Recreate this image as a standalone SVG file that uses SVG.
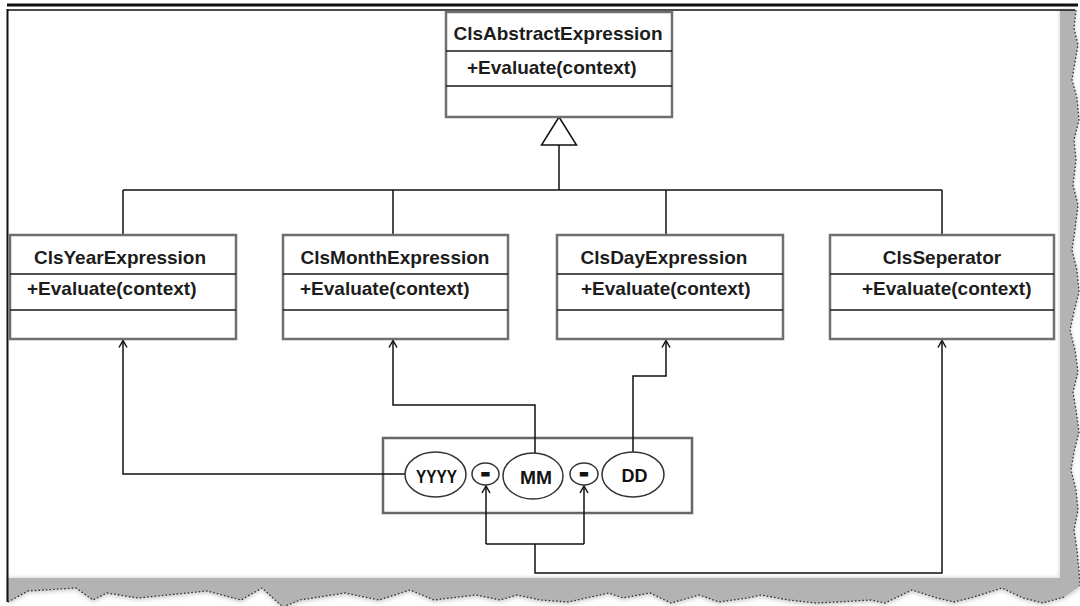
<svg xmlns="http://www.w3.org/2000/svg" width="1080" height="606" viewBox="0 0 1080 606">
  <defs>
    <style>
      .box { fill: #ffffff; stroke: #6f6f6f; stroke-width: 2.5; }
      .div { stroke: #1a1a1a; stroke-width: 1.3; }
      .t { font-family: "Liberation Sans", Arial, sans-serif; font-weight: bold; font-size: 19px; fill: #1c1c1c; }
      .c { text-anchor: middle; }
      .conn { fill: none; stroke: #111111; stroke-width: 1.5; }
      .ell { fill: #ffffff; stroke: #333333; stroke-width: 1.5; }
      .et { font-family: "Liberation Sans", Arial, sans-serif; font-weight: bold; font-size: 18.5px; fill: #111111; text-anchor: middle; }
      .dash { font-family: "Liberation Sans", Arial, sans-serif; font-weight: bold; font-size: 28px; fill: #111111; stroke: #111111; stroke-width: 1.2; text-anchor: middle; }
      .frame { stroke: #111111; fill: none; }
      .shadow { fill: #b3b3b3; }
      .edge { fill: none; stroke: #2e2e2e; stroke-width: 1.3; stroke-dasharray: 1.5 2.2; }
    </style>
    <marker id="arrow" markerUnits="userSpaceOnUse" markerWidth="12" markerHeight="12" refX="8" refY="5" orient="auto">
      <path d="M1,1 L8,5 L1,9" fill="none" stroke="#111111" stroke-width="1.5"/>
    </marker>
    <filter id="soft" x="-5%" y="-5%" width="110%" height="110%">
      <feGaussianBlur stdDeviation="2.2"/>
    </filter>
  </defs>

  <rect x="0" y="0" width="1080" height="606" fill="#ffffff"/>

  <!-- page shadow and torn edge -->
  <g id="page-edge">
    <path filter="url(#soft)" fill="#c8c8c8" d="M1060,10 L1076,10 L1074,28 L1078,45 L1075,62 L1072,80 L1077,98 L1079,120 L1074,140 L1076,160 L1073,185 L1078,205 L1075,230 L1072,250 L1077,270 L1079,292 L1074,312 L1070,330 L1075,350 L1078,372 L1073,392 L1076,410 L1079,432 L1074,452 L1071,470 L1076,490 L1078,510 L1074,530 L1077,550 L1079,570 L1080,588 L1064,599 L1043,605 L1023,600 L1002,590 L974,599 L954,604 L937,600 L912,592 L885,605 L871,602 L837,604 L816,605 L788,602 L761,597 L747,600 L719,604 L699,597 L671,605 L650,595 L623,600 L609,595 L568,604 L540,602 L517,597 L500,602 L476,597 L434,602 L410,592 L379,602 L345,595 L300,602 L283,609 L262,590 L241,602 L207,593 L138,600 L107,595 L93,602 L76,590 L28,593 L8,604 L8,578 L1060,578 Z"/>
    <path class="shadow" d="M1060,10 L1076,10 L1074,28 L1078,45 L1075,62 L1072,80 L1077,98 L1079,120 L1074,140 L1076,160 L1073,185 L1078,205 L1075,230 L1072,250 L1077,270 L1079,292 L1074,312 L1070,330 L1075,350 L1078,372 L1073,392 L1076,410 L1079,432 L1074,452 L1071,470 L1076,490 L1078,510 L1074,530 L1077,550 L1079,570 L1080,586 L1064,597 L1043,603 L1023,598 L1002,588 L974,597 L954,602 L937,598 L912,590 L885,603 L871,600 L837,602 L816,603 L788,600 L761,595 L747,598 L719,602 L699,595 L671,603 L650,593 L623,598 L609,593 L568,602 L540,600 L517,595 L500,600 L476,595 L434,600 L410,590 L379,600 L345,593 L300,600 L283,607 L262,588 L241,600 L207,591 L138,598 L107,593 L93,600 L76,588 L28,591 L8,602 L8,578 L1060,578 Z"/>
    <path class="edge" d="M1076,10 L1074,28 L1078,45 L1075,62 L1072,80 L1077,98 L1079,120 L1074,140 L1076,160 L1073,185 L1078,205 L1075,230 L1072,250 L1077,270 L1079,292 L1074,312 L1070,330 L1075,350 L1078,372 L1073,392 L1076,410 L1079,432 L1074,452 L1071,470 L1076,490 L1078,510 L1074,530 L1077,550 L1079,570 L1080,586 M1064,597 L1043,603 L1023,598 L1002,588 L974,597 L954,602 L937,598 L912,590 L885,603 L871,600 L837,602 L816,603 L788,600 L761,595 L747,598 L719,602 L699,595 L671,603 L650,593 L623,598 L609,593 L568,602 L540,600 L517,595 L500,600 L476,595 L434,600 L410,590 L379,600 L345,593 L300,600 L283,607 L262,588 L241,600 L207,591 L138,598 L107,593 L93,600 L76,588 L28,591 L8,602"/>
    <!-- page border -->
    <line class="frame" x1="7" y1="5" x2="1078" y2="5" stroke-width="3"/>
    <line class="frame" x1="7" y1="10" x2="1075" y2="10" stroke-width="1.5"/>
    <line class="frame" x1="7.5" y1="9" x2="7.5" y2="602" stroke-width="2"/>
  </g>

  <!-- outline around the date format parts -->
  <g id="DateFormat">
    <rect x="383" y="438" width="309" height="75" fill="none" stroke="#666666" stroke-width="2.5"/>
  </g>

  <!-- connectors -->
  <g id="connectors">
    <!-- generalization -->
    <path class="conn" d="M559,145 V190 M123,190 H942 M123,190 V235 M393,190 V235 M666,190 V235 M942,190 V235"/>
    <!-- format parts to their expressions -->
    <path class="conn" d="M405,474 H123 V340.5" marker-end="url(#arrow)"/>
    <path class="conn" d="M535,453 V405 H393 V340.5" marker-end="url(#arrow)"/>
    <path class="conn" d="M633,452 V376 H666 V340.5" marker-end="url(#arrow)"/>
    <path class="conn" d="M535,544 V573 H942 V340.5" marker-end="url(#arrow)"/>
    <path class="conn" d="M486,544 H584"/>
    <path class="conn" d="M486,544 V486" marker-end="url(#arrow)"/>
    <path class="conn" d="M584,544 V486" marker-end="url(#arrow)"/>
  </g>

  <!-- inheritance triangle -->
  <g id="generalization">
    <path d="M559,117 L576.5,145 L541.5,145 Z" fill="#ffffff" stroke="#111111" stroke-width="1.5"/>
  </g>

  <g id="ClsAbstractExpression">
    <rect class="box" x="446" y="12" width="226" height="105"/>
    <line class="div" x1="446" y1="51" x2="672" y2="51"/>
    <line class="div" x1="446" y1="86" x2="672" y2="86"/>
    <text class="t c" x="558" y="40">ClsAbstractExpression</text>
    <text class="t" x="467" y="74">+Evaluate(context)</text>
  </g>

  <g id="ClsYearExpression">
    <rect class="box" x="10" y="235" width="226" height="104"/>
    <line class="div" x1="10" y1="274" x2="236" y2="274"/>
    <line class="div" x1="10" y1="310" x2="236" y2="310"/>
    <text class="t c" x="120" y="264">ClsYearExpression</text>
    <text class="t" x="27" y="295">+Evaluate(context)</text>
  </g>

  <g id="ClsMonthExpression">
    <rect class="box" x="283" y="235" width="225" height="104"/>
    <line class="div" x1="283" y1="274" x2="508" y2="274"/>
    <line class="div" x1="283" y1="310" x2="508" y2="310"/>
    <text class="t c" x="395" y="264">ClsMonthExpression</text>
    <text class="t" x="300" y="295">+Evaluate(context)</text>
  </g>

  <g id="ClsDayExpression">
    <rect class="box" x="557" y="235" width="226" height="104"/>
    <line class="div" x1="557" y1="274" x2="783" y2="274"/>
    <line class="div" x1="557" y1="310" x2="783" y2="310"/>
    <text class="t c" x="664" y="264">ClsDayExpression</text>
    <text class="t" x="581" y="295">+Evaluate(context)</text>
  </g>

  <g id="ClsSeperator">
    <rect class="box" x="830" y="235" width="224" height="104"/>
    <line class="div" x1="830" y1="274" x2="1054" y2="274"/>
    <line class="div" x1="830" y1="310" x2="1054" y2="310"/>
    <text class="t c" x="942" y="264">ClsSeperator</text>
    <text class="t" x="862" y="295">+Evaluate(context)</text>
  </g>

  <g id="YYYY">
    <ellipse class="ell" cx="435.5" cy="474.5" rx="30.5" ry="22.5"/>
    <text class="et" x="436.5" y="483" textLength="41" lengthAdjust="spacingAndGlyphs">YYYY</text>
  </g>
  <g id="sep1">
    <ellipse class="ell" cx="485.5" cy="474" rx="13.5" ry="11"/>
    <text class="dash" x="485.5" y="482">-</text>
  </g>
  <g id="MM">
    <ellipse class="ell" cx="533" cy="476" rx="30" ry="23"/>
    <text class="et" x="536" y="484" textLength="32" lengthAdjust="spacingAndGlyphs">MM</text>
  </g>
  <g id="sep2">
    <ellipse class="ell" cx="584" cy="474" rx="14" ry="11"/>
    <text class="dash" x="584" y="482">-</text>
  </g>
  <g id="DD">
    <ellipse class="ell" cx="633" cy="474.5" rx="31" ry="22.5"/>
    <text class="et" x="634.5" y="482" textLength="26" lengthAdjust="spacingAndGlyphs">DD</text>
  </g>
</svg>
